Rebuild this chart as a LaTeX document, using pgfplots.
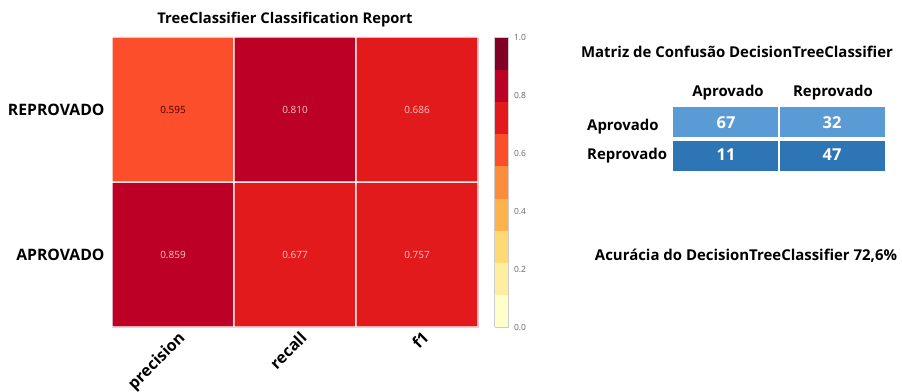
\documentclass[border=0pt]{standalone}
\usepackage{pgfplots}
\pgfplotsset{compat=1.18}
\usepackage{fontspec}
\setmainfont{Open Sans}
\definecolor{cmlight}{HTML}{5B9BD5}
\definecolor{cmdark}{HTML}{2E75B6}
\pgfplotsset{/pgf/number format/assume math mode=true}
\begin{document}
\begin{tikzpicture}
\useasboundingbox (0,0) rectangle (902bp,392bp);
% ---------- heatmap ----------
\begin{axis}[
  at={(112bp,65bp)}, anchor=south west,
  scale only axis, width=366bp, height=290bp,
  xmin=-0.5, xmax=2.5, ymin=-0.5, ymax=1.5,
  xtick={0,1,2}, xticklabels={precision,recall,f1},
  ytick={0,1}, yticklabels={APROVADO,REPROVADO},
  major tick length=0pt,
  axis line style={draw=black!15},
  x tick label style={rotate=45, anchor=north east, font=\bfseries\fontsize{16}{18}\selectfont, xshift=4bp, yshift=-2bp},
  y tick label style={anchor=east, font=\bfseries\fontsize{15.8}{18}\selectfont, xshift=-4bp},
  colormap={yor}{rgb255=(255,255,204) rgb255=(255,237,160) rgb255=(254,217,118) rgb255=(254,178,76) rgb255=(253,141,60) rgb255=(252,78,42) rgb255=(227,26,28) rgb255=(189,0,38) rgb255=(128,0,38)},
  colormap access=piecewise constant,
  point meta min=0, point meta max=1,
  colorbar,
  colorbar style={
    at={(parent axis.north east)}, anchor=north west, xshift=8bp,
    scale only axis, width=14bp, height=290bp,
    ytick={0,0.2,0.4,0.6,0.8,1},
    yticklabel={\pgfmathprintnumber[fixed,precision=1,zerofill]{\tick}},
    yticklabel style={font=\fontsize{8.5}{9}\selectfont, text=black!60, xshift=2bp},
    major tick length=0pt,
    axis line style={draw=black!20},
  },
]
\addplot[matrix plot*, mesh/cols=3, point meta=explicit, draw=white, line width=1.2bp]
  table[meta=v] {
x y v
0 0 0.859
1 0 0.677
2 0 0.757
0 1 0.595
1 1 0.810
2 1 0.686
};
\addplot[only marks, mark=none, point meta=explicit, nodes near coords={\pgfmathprintnumber[fixed,precision=3,zerofill]{\pgfplotspointmeta}}, nodes near coords align=center,
  every node near coord/.append style={font=\fontsize{10}{12}\selectfont, text=black!75!red}]
  table[meta=v] {
x y v
0 1 0.595
};
\addplot[only marks, mark=none, point meta=explicit, nodes near coords={\pgfmathprintnumber[fixed,precision=3,zerofill]{\pgfplotspointmeta}}, nodes near coords align=center,
  every node near coord/.append style={font=\fontsize{10}{12}\selectfont, text=white!78!red}]
  table[meta=v] {
x y v
0 0 0.859
1 0 0.677
2 0 0.757
1 1 0.810
2 1 0.686
};
\end{axis}
\node[font=\bfseries\fontsize{14.8}{16}\selectfont] at (285bp,372bp) {TreeClassifier Classification Report};
% ---------- confusion matrix ----------
\node[font=\bfseries\fontsize{15}{17}\selectfont] at (737bp,340bp) {Matriz de Confusão DecisionTreeClassifier};
\begin{axis}[
  at={(673bp,221bp)}, anchor=south west,
  scale only axis, width=212bp, height=64bp,
  xmin=0, xmax=2, ymin=0, ymax=2, hide axis, clip=false,
]
\addplot[fill=cmlight, draw=none] coordinates {(0,1.06) (0.994,1.06) (0.994,2) (0,2)} -- cycle;
\addplot[fill=cmlight, draw=none] coordinates {(1.006,1.06) (2,1.06) (2,2) (1.006,2)} -- cycle;
\addplot[fill=cmdark, draw=none] coordinates {(0,0) (0.994,0) (0.994,0.94) (0,0.94)} -- cycle;
\addplot[fill=cmdark, draw=none] coordinates {(1.006,0) (2,0) (2,0.94) (1.006,0.94)} -- cycle;
\addplot[only marks, mark=none, point meta=explicit, nodes near coords, nodes near coords align=center,
  every node near coord/.append style={font=\bfseries\fontsize{16.5}{19}\selectfont, text=white}]
  table[meta=v] {
x y v
0.5 1.5 67
1.5 1.5 32
0.5 0.5 11
1.5 0.5 47
};
\end{axis}
\node[font=\bfseries\fontsize{15}{17}\selectfont] at (728bp,299bp) {Aprovado};
\node[font=\bfseries\fontsize{15}{17}\selectfont] at (833bp,299bp) {Reprovado};
\node[font=\bfseries\fontsize{15}{17}\selectfont, anchor=west, inner sep=0pt] at (587bp,265bp) {Aprovado};
\node[font=\bfseries\fontsize{15}{17}\selectfont, anchor=west, inner sep=0pt] at (587bp,236bp) {Reprovado};
\node[font=\bfseries\fontsize{15}{17}\selectfont] at (746bp,136bp) {Acurácia do DecisionTreeClassifier 72,6\%};
\end{tikzpicture}
\end{document}
